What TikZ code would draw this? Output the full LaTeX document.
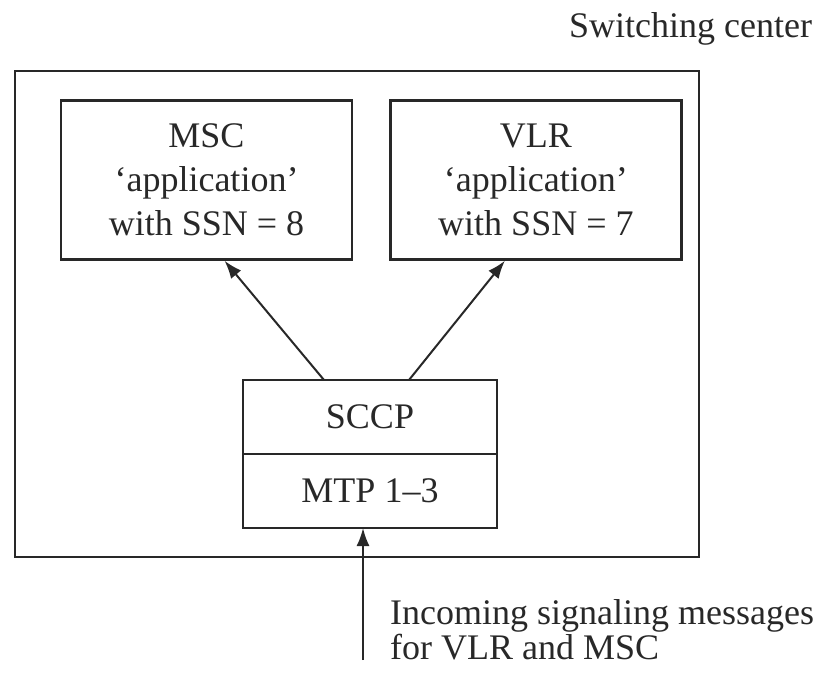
\documentclass[tikz,border=0pt]{standalone}
\usepackage{fontspec}
\setmainfont{Liberation Serif}
\usetikzlibrary{arrows.meta,positioning}
\definecolor{ink}{RGB}{40,40,40}

\begin{document}
\begin{tikzpicture}[x=0.5pt,y=-0.5pt,font=\fontsize{18}{22}\selectfont,text=ink,
	box/.style={draw=ink,line width=1.2pt,align=center,inner sep=0pt},
	app/.style={box,minimum width=145.5pt,minimum height=79.5pt},
	layer/.style={box,outer sep=0pt,minimum width=127pt,minimum height=37pt},
	msg/.style={draw=ink,line width=1pt,-{Latex[length=9pt,width=6.5pt]}}]
	\useasboundingbox (0,0) rectangle (830,673);

	\node[box,minimum width=342pt,minimum height=243pt] (sc) at (357,314) {};
	\node[anchor=base west] (sclabel) at (562,38) {Switching center};

	\node[app] (msc) at (206.5,180) {MSC\\`application'\\with SSN = 8};
	\node[app,right=18pt of msc] (vlr) {VLR\\`application'\\with SSN = 7};

	\node[layer] (sccp) at (370,417) {SCCP};
	\node[layer,below=0pt of sccp] (mtp) {MTP 1--3};

	\draw[msg] ([xshift=-23pt]sccp.north) -- ([xshift=9pt]msc.south);
	\draw[msg] ([xshift=19.5pt]sccp.north) -- ([xshift=-15.5pt]vlr.south);

	\coordinate (in) at (363,660);
	\draw[msg] (in) -- (in |- mtp.south);
	% base of a two-line node sits on its last line
	\node[anchor=base west,align=left,font=\fontsize{18}{17.5}\selectfont] (inlabel) at (383,659)
		{Incoming signaling messages\\for VLR and MSC};
\end{tikzpicture}
\end{document}
